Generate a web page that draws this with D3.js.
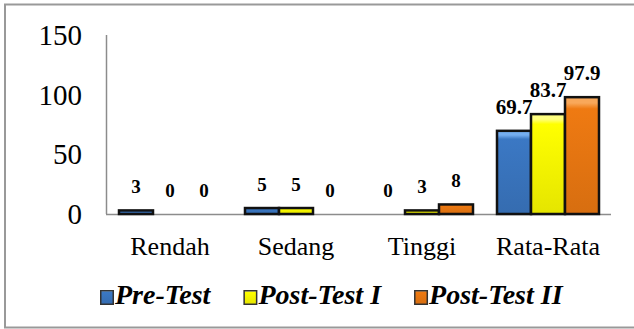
<!DOCTYPE html>
<html>
<head>
<meta charset="utf-8">
<script src="https://cdn.jsdelivr.net/npm/d3@7"></script>
<style>
  body { margin: 0; background: #fff; }
  text { font-family: "Liberation Serif", "Times New Roman", serif; }
</style>
</head>
<body>
<div id="chart"></div>
<script>
// chart data
var categories = ["Rendah", "Sedang", "Tinggi", "Rata-Rata"];
var series = ["Pre-Test", "Post-Test I", "Post-Test II"];
var preTest = [3, 5, 0, 69.7];
var postTest1 = [0, 5, 3, 83.7];
var postTest2 = [0, 0, 8, 97.9];
var yTicks = [0, 50, 100, 150];

var seriesValues = [preTest, postTest1, postTest2];
var colors = ["#3b78c4", "#ffff00", "#ef7a12"];
var lights = ["#74aef0", "#ffff80", "#f9a85a"];

var width = 634, height = 329;
var plot = {left: 107, right: 611, top: 35, bottom: 214};

var svg = d3.select("#chart")
  .append("svg")
    .attr("width", width)
    .attr("height", height);

// outer frame
svg.append("rect")
  .attr("x", 5).attr("y", 4.5)
  .attr("width", 640).attr("height", 323)
  .attr("fill", "none")
  .attr("stroke", "#999")
  .attr("stroke-width", 2);

// gradients for the bevelled bars
var defs = svg.append("defs");
colors.forEach(function(c, i) {
  var g = defs.append("linearGradient")
    .attr("id", "grad" + i)
    .attr("x1", 0).attr("y1", 0).attr("x2", 0).attr("y2", 1);
  g.append("stop").attr("offset", "0%").attr("stop-color", lights[i]);
  g.append("stop").attr("offset", "5%").attr("stop-color", lights[i]);
  g.append("stop").attr("offset", "10%").attr("stop-color", c);
  g.append("stop").attr("offset", "100%").attr("stop-color", d3.color(c).darker(0.3));
});

var x0 = d3.scaleBand()
  .domain(categories)
  .range([plot.left, plot.right]);

var x1 = d3.scaleBand()
  .domain(series)
  .range([12, x0.bandwidth() - 12]);

var y = d3.scaleLinear()
  .domain([0, 150])
  .range([plot.bottom, plot.top]);

// axes lines
svg.append("line")
  .attr("x1", plot.left - 0.5).attr("x2", plot.left - 0.5)
  .attr("y1", y(150)).attr("y2", y(0))
  .attr("stroke", "#8c8c8c").attr("stroke-width", 1.5);
svg.append("line")
  .attr("x1", plot.left - 1).attr("x2", plot.right)
  .attr("y1", y(0) + 0.5).attr("y2", y(0) + 0.5)
  .attr("stroke", "#8c8c8c").attr("stroke-width", 1.5);

// y tick labels
svg.selectAll(".ytick")
  .data(yTicks)
  .enter().append("text")
    .attr("class", "ytick")
    .attr("x", 82)
    .attr("y", function(d) { return y(d); })
    .attr("dy", "0.35em")
    .attr("text-anchor", "end")
    .attr("font-size", 29)
    .text(function(d) { return d; });

// category labels
svg.selectAll(".xlabel")
  .data(categories)
  .enter().append("text")
    .attr("class", "xlabel")
    .attr("x", function(d) { return x0(d) + x0.bandwidth() / 2; })
    .attr("y", 255)
    .attr("text-anchor", "middle")
    .attr("font-size", 26)
    .text(function(d) { return d; });

// flatten into bar records
var bars = [];
categories.forEach(function(cat, ci) {
  series.forEach(function(s, si) {
    bars.push({cat: cat, series: s, si: si, value: seriesValues[si][ci]});
  });
});

svg.selectAll(".bar")
  .data(bars.filter(function(d) { return d.value > 0; }))
  .enter().append("rect")
    .attr("class", "bar")
    .attr("x", function(d) { return x0(d.cat) + x1(d.series); })
    .attr("y", function(d) { return y(d.value); })
    .attr("width", x1.bandwidth())
    .attr("height", function(d) { return y(0) - y(d.value); })
    .attr("fill", function(d) { return "url(#grad" + d.si + ")"; })
    .attr("stroke", "#111")
    .attr("stroke-width", 2.5);

svg.selectAll(".vlabel")
  .data(bars)
  .enter().append("text")
    .attr("class", "vlabel")
    .attr("x", function(d) { return x0(d.cat) + x1(d.series) + x1.bandwidth() / 2; })
    .attr("y", function(d) { return y(d.value) - 17; })
    .attr("text-anchor", "middle")
    .attr("font-weight", "bold")
    .attr("font-size", function(d) { return d.value >= 50 ? 21 : 19; })
    .text(function(d) { return d.value; });

// legend
var legend = svg.append("g");
var lx = 100;
series.forEach(function(s, i) {
  legend.append("rect")
    .attr("x", lx + 0.75).attr("y", 290.75)
    .attr("width", 12.5).attr("height", 13.5)
    .attr("fill", "url(#grad" + i + ")")
    .attr("stroke", "#333")
    .attr("stroke-width", 1.5);
  var t = legend.append("text")
    .attr("x", lx + 15)
    .attr("y", 304)
    .attr("font-size", 28)
    .attr("font-weight", "bold")
    .attr("font-style", "italic")
    .text(s);
  lx = lx + 15 + t.node().getComputedTextLength() + 33;
});
</script>
</body>
</html>
